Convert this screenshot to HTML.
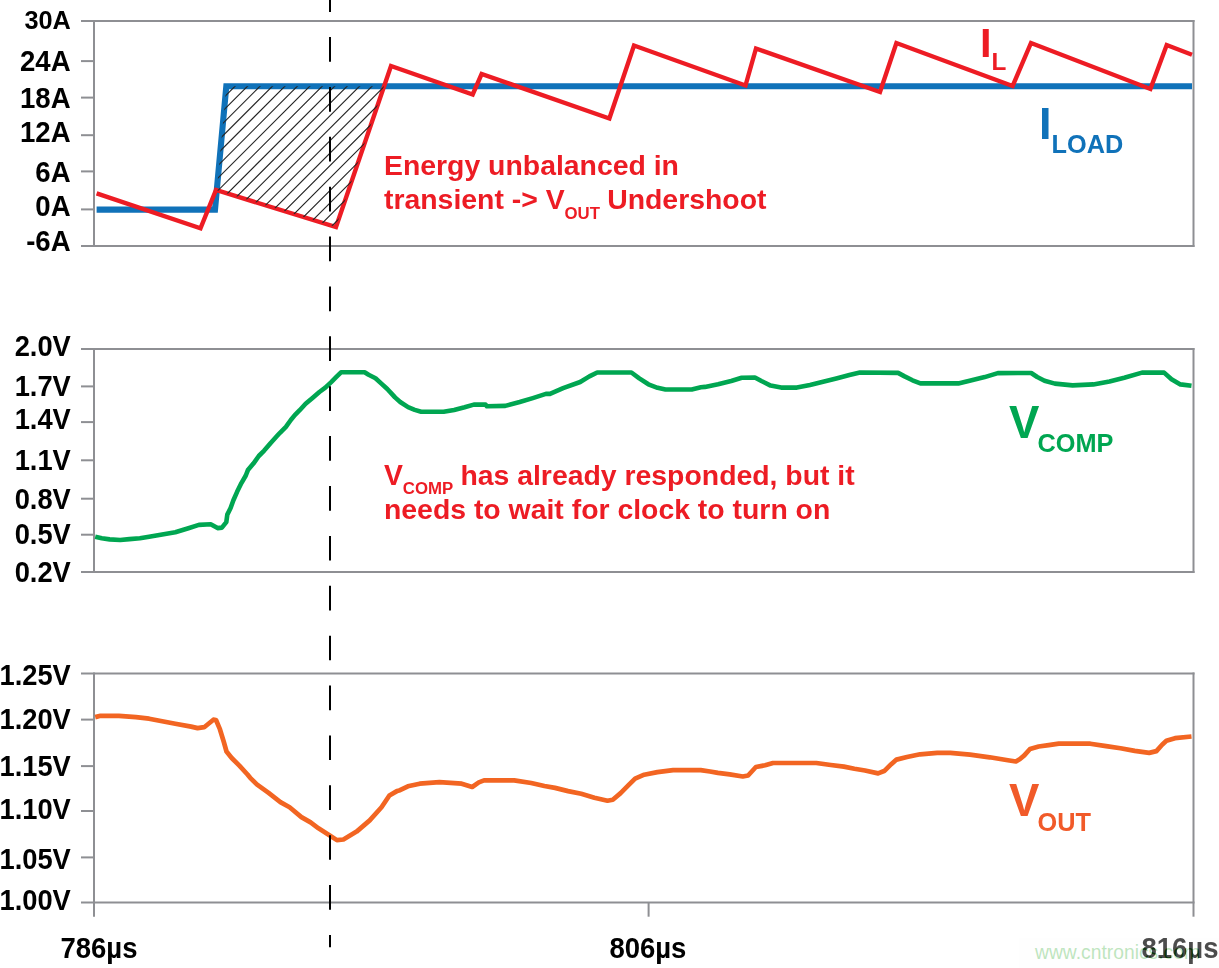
<!DOCTYPE html>
<html><head><meta charset="utf-8"><title>Load transient: IL, VCOMP, VOUT</title>
<style>
html,body{margin:0;padding:0;background:#fff;}
body{width:1219px;height:968px;overflow:hidden;position:relative;}
svg{position:absolute;left:0;top:0;display:block;will-change:transform;}
svg text{font-family:"Liberation Sans",Arial,sans-serif;font-weight:bold;}
.wm{position:absolute;left:1019px;top:938px;width:200px;height:30px;background:#fafafa;opacity:0.3;overflow:hidden;}
.wm span{position:absolute;left:16px;top:0;font:19.3px "Liberation Sans",Arial,sans-serif;color:#2aa82a;white-space:nowrap;line-height:20px;transform-origin:0 0;transform:translate(0,3.3px) scale(1,1.08);}
</style></head>
<body>
<svg width="1219" height="968" viewBox="0 0 1219 968">
<g stroke="#8e8f93" stroke-width="2" fill="none">
<line x1="81" y1="21" x2="1194.5" y2="21"/>
<line x1="81" y1="246" x2="1194.5" y2="246"/>
<line x1="94" y1="20" x2="94" y2="247"/>
<line x1="1193.5" y1="20" x2="1193.5" y2="247"/>
<line x1="81" y1="61.1" x2="94" y2="61.1"/>
<line x1="81" y1="97.6" x2="94" y2="97.6"/>
<line x1="81" y1="135.2" x2="94" y2="135.2"/>
<line x1="81" y1="171.4" x2="94" y2="171.4"/>
<line x1="81" y1="209.4" x2="94" y2="209.4"/>
<line x1="81" y1="349" x2="1194.5" y2="349"/>
<line x1="81" y1="572" x2="1194.5" y2="572"/>
<line x1="94" y1="348" x2="94" y2="573"/>
<line x1="1193.5" y1="348" x2="1193.5" y2="573"/>
<line x1="81" y1="386.4" x2="94" y2="386.4"/>
<line x1="81" y1="422.1" x2="94" y2="422.1"/>
<line x1="81" y1="460.3" x2="94" y2="460.3"/>
<line x1="81" y1="498.7" x2="94" y2="498.7"/>
<line x1="81" y1="534.7" x2="94" y2="534.7"/>
<line x1="81" y1="673.5" x2="1194.5" y2="673.5"/>
<line x1="81" y1="902.5" x2="1194.5" y2="902.5"/>
<line x1="94" y1="672.5" x2="94" y2="916.7"/>
<line x1="1193.5" y1="672.5" x2="1193.5" y2="916.7"/>
<line x1="81" y1="719.6" x2="94" y2="719.6"/>
<line x1="81" y1="766.1" x2="94" y2="766.1"/>
<line x1="81" y1="811" x2="94" y2="811"/>
<line x1="81" y1="857.4" x2="94" y2="857.4"/>
<line x1="648.6" y1="902.5" x2="648.6" y2="916.7"/>
</g>
<polyline points="96.6,209.6 215,209.6 226.3,86.2 1192,86.2" fill="none" stroke="#1072b9" stroke-width="6.1" stroke-linejoin="miter"/>
<polyline points="96.6,193.3 200.5,228.3 216,190 336,227 391,66 472.7,94.5 481.6,74 609.4,118.5 634,45.5 745.5,85.5 756,48.5 880,92 896.4,43 1012.6,86 1031,43 1150.4,89 1166.7,45 1192,54.8" fill="none" stroke="#ed1c24" stroke-width="4.4" stroke-linejoin="miter" stroke-miterlimit="10"/>
<clipPath id="hc"><polygon points="216.8,190.2 226.3,86.2 384,86.2 336,227"/></clipPath>
<path clip-path="url(#hc)" d="M200,96.40L400,-103.60M200,108.85L400,-91.15M200,121.30L400,-78.70M200,133.75L400,-66.25M200,146.20L400,-53.80M200,158.65L400,-41.35M200,171.10L400,-28.90M200,183.55L400,-16.45M200,196.00L400,-4.00M200,208.45L400,8.45M200,220.90L400,20.90M200,233.35L400,33.35M200,245.80L400,45.80M200,258.25L400,58.25M200,270.70L400,70.70M200,283.15L400,83.15M200,295.60L400,95.60M200,308.05L400,108.05M200,320.50L400,120.50M200,332.95L400,132.95M200,345.40L400,145.40M200,357.85L400,157.85M200,370.30L400,170.30M200,382.75L400,182.75M200,395.20L400,195.20M200,407.65L400,207.65M200,420.10L400,220.10" stroke="#262626" stroke-width="1.15" fill="none"/>
<polyline points="95.2,536.7 101.8,538.3 109.7,539.4 120.2,540 129.4,539.1 139.9,538.3 149.1,536.7 162.2,534.4 175.3,532.2 188.4,528.2 198.9,524.9 210.7,524.3 217.6,528.1 221.9,527.6 226.3,522.1 227.3,514.6 230.6,508 233.3,500.5 237.1,491.8 241.4,483.1 245.8,475.5 247.9,470.1 253.4,463.6 258.8,456 264.2,450.6 270.7,443 277.2,435.8 280,432.8 285.9,426.9 290.8,420 294.8,415.1 299.7,410.2 305.6,403.8 312.5,397.9 319.4,392 325.3,387.6 331.2,382.1 336.1,377.2 341,372.3 364.6,372.3 368.6,374.8 375.5,378.2 381.4,383.6 387.3,389 393.2,395.4 395,397.4 400.2,402 408.1,407.2 414.7,409.9 421.2,411.8 443.6,411.8 454.1,409.9 464.6,407.2 473.8,404.6 485.6,404.6 486.9,406.3 505.3,405.9 519.7,402 532.8,398.1 545.9,393.9 550,393.9 563.1,388.2 580.2,382 589.4,376.4 597.2,372.5 631.4,372.5 639.3,378.4 648.4,384.3 657.6,387.8 665.5,389.5 691.7,389.5 700.9,387.3 705,386.9 718.1,384.3 731.2,381 741.7,377.7 754.9,377.5 761.4,381 770.6,385.6 781.1,387.6 796.9,387.6 810,384.9 823.1,381.7 836.3,378.4 849.4,375.1 859.9,372.5 898.1,372.9 904.6,376.4 912.5,380.3 920.4,383.4 958.4,383.4 971.6,380.3 984.7,377.1 997.8,373.1 1031.2,373 1037.2,377 1044.5,380.7 1054.9,383.6 1072.6,385.4 1093.3,384.4 1109.5,381.4 1124.3,377.7 1142,372.6 1164.1,372.6 1171.5,379.2 1180.4,384.4 1191.5,385.8" fill="none" stroke="#00a651" stroke-width="4.6" stroke-linejoin="round"/>
<polyline points="95.2,716.8 100.5,715.5 118.9,715.5 135.9,716.8 149.1,718.4 162.2,721 175.3,723.4 191.1,726.3 197.6,727.8 204.2,726.9 213.4,719.4 216,719.7 219.9,728.9 223.9,742 226.5,751.2 231.7,757.7 239.6,765.6 247.5,774.2 250.2,777.5 256.8,784 268.6,792.6 280.4,801.8 289.6,807 301.4,816.8 310.6,822.1 318.5,828 329,834.6 336.9,839.8 343.4,839.2 356.6,831.3 369.7,820.1 381.5,807 389.4,795.2 397.3,790.6 400,789.9 407.9,786 419.7,783.4 439.4,781.8 461.7,783.4 472.2,786.7 478.8,782.1 484,780.1 514.2,780.1 531.2,782.7 544.4,785.7 555,787.6 568.1,790.8 581.2,793.5 594.4,797.4 607.5,800.4 612.8,799.4 620.6,792.8 628.5,784.9 635.1,778.4 644.2,774.4 657.4,771.8 673.1,769.8 700.7,769.8 710,771.2 717.9,772.6 729.7,774.1 742.8,776.2 748.1,775.2 755.9,766.7 765.1,765 773,762.7 816.3,762.7 830.8,764.7 843.9,766.3 854.4,768.4 865,770.2 878.1,773.1 884.7,770.4 891.2,763.9 896.5,759.3 907,756.7 920.1,754 937.2,752.5 950.3,752.5 970,754.4 989.7,757 1009.4,760.2 1015.9,761.2 1020,758.7 1024.3,755.1 1030,748.7 1038.7,746.2 1048.7,744.8 1058.8,743.4 1090.3,743.4 1106.1,745.8 1120.5,748 1134.8,750.6 1149.2,752.6 1156.4,750.8 1162.1,744.4 1166.4,740.5 1175,737.9 1191.5,736.2" fill="none" stroke="#f26522" stroke-width="4.7" transform="translate(0 0.3)" stroke-linejoin="round"/>
<line x1="330" y1="-12.8" x2="330" y2="947.3" stroke="#000" stroke-width="2" stroke-dasharray="24.7 25.18"/>
<text transform="translate(70.60000000000001 70.8) scale(1 1.05)" font-size="27.6" fill="#000" text-anchor="end">24A</text>
<text transform="translate(70.60000000000001 108) scale(1 1.05)" font-size="27.6" fill="#000" text-anchor="end">18A</text>
<text transform="translate(70.60000000000001 142.4) scale(1 1.05)" font-size="27.6" fill="#000" text-anchor="end">12A</text>
<text transform="translate(70.60000000000001 182.2) scale(1 1.05)" font-size="27.6" fill="#000" text-anchor="end">6A</text>
<text transform="translate(70.60000000000001 216.2) scale(1 1.05)" font-size="27.6" fill="#000" text-anchor="end">0A</text>
<text transform="translate(70.60000000000001 251) scale(1 1.05)" font-size="27.6" fill="#000" text-anchor="end">-6A</text>
<text transform="translate(70.9 29) scale(1 1.05)" font-size="25.3" fill="#000" text-anchor="end">30A</text>
<text transform="translate(70.8 356) scale(1 1.05)" font-size="27.3" fill="#000" text-anchor="end">2.0V</text>
<text transform="translate(70.8 395.8) scale(1 1.05)" font-size="27.3" fill="#000" text-anchor="end">1.7V</text>
<text transform="translate(70.8 428.8) scale(1 1.05)" font-size="27.3" fill="#000" text-anchor="end">1.4V</text>
<text transform="translate(70.8 469.7) scale(1 1.05)" font-size="27.3" fill="#000" text-anchor="end">1.1V</text>
<text transform="translate(70.8 508.6) scale(1 1.05)" font-size="27.3" fill="#000" text-anchor="end">0.8V</text>
<text transform="translate(70.8 543.5) scale(1 1.05)" font-size="27.3" fill="#000" text-anchor="end">0.5V</text>
<text transform="translate(70.8 582) scale(1 1.05)" font-size="27.3" fill="#000" text-anchor="end">0.2V</text>
<text transform="translate(70.8 684.9) scale(1 1.05)" font-size="27.3" fill="#000" text-anchor="end">1.25V</text>
<text transform="translate(70.8 728.5) scale(1 1.05)" font-size="27.3" fill="#000" text-anchor="end">1.20V</text>
<text transform="translate(70.8 775.5) scale(1 1.05)" font-size="27.3" fill="#000" text-anchor="end">1.15V</text>
<text transform="translate(70.8 819) scale(1 1.05)" font-size="27.3" fill="#000" text-anchor="end">1.10V</text>
<text transform="translate(70.8 868.9) scale(1 1.05)" font-size="27.3" fill="#000" text-anchor="end">1.05V</text>
<text transform="translate(70.8 909.9) scale(1 1.05)" font-size="27.3" fill="#000" text-anchor="end">1.00V</text>
<text transform="translate(99 958.1) scale(1 1.055)" font-size="27.5" fill="#000" text-anchor="middle">786µs</text>
<text transform="translate(647.9 958.1) scale(1 1.055)" font-size="27.5" fill="#000" text-anchor="middle">806µs</text>
<text transform="translate(1180 957.5) scale(1 1.055)" font-size="27.5" fill="#000" text-anchor="middle">816µs</text>
<text transform="translate(384 175.2) scale(1 0.985)" font-size="28.4" fill="#ed1c24" text-anchor="start">Energy unbalanced in</text>
<text transform="translate(384 208.8) scale(1 0.985)" font-size="28.4" fill="#ed1c24" text-anchor="start">transient -&gt; V</text>
<text x="564.5" y="218.7" font-size="16.8" fill="#ed1c24" text-anchor="start">OUT</text>
<text transform="translate(607.2 208.8) scale(1 0.985)" font-size="28.4" fill="#ed1c24" text-anchor="start">Undershoot</text>
<text transform="translate(384 485) scale(1 1.02)" font-size="28.4" fill="#ed1c24" text-anchor="start">V</text>
<text x="402.8" y="493.8" font-size="16.8" fill="#ed1c24" text-anchor="start">COMP</text>
<text transform="translate(460.4 485) scale(1 0.985)" font-size="28.4" fill="#ed1c24" text-anchor="start">has already responded, but it</text>
<text transform="translate(384 518.8) scale(1 0.985)" font-size="28.4" fill="#ed1c24" text-anchor="start">needs to wait for clock to turn on</text>
<text x="980" y="56.8" font-size="41.5" fill="#ed1c24" text-anchor="start">I</text>
<text x="991.5" y="69.8" font-size="24.3" fill="#ed1c24" text-anchor="start">L</text>
<text x="1039" y="138.9" font-size="45" fill="#1072b9" text-anchor="start">I</text>
<text x="1051.5" y="153" font-size="25.3" fill="#1072b9" text-anchor="start">LOAD</text>
<text x="1009" y="437.8" font-size="45.5" fill="#00a651" text-anchor="start">V</text>
<text x="1037.5" y="451.5" font-size="25.3" fill="#00a651" text-anchor="start">COMP</text>
<text x="1009" y="815.9" font-size="45.5" fill="#f15a29" text-anchor="start">V</text>
<text x="1037.5" y="830.9" font-size="25.3" fill="#f15a29" text-anchor="start">OUT</text>
</svg>
<div class="wm"><span>www.cntronics.com</span></div>
</body></html>
